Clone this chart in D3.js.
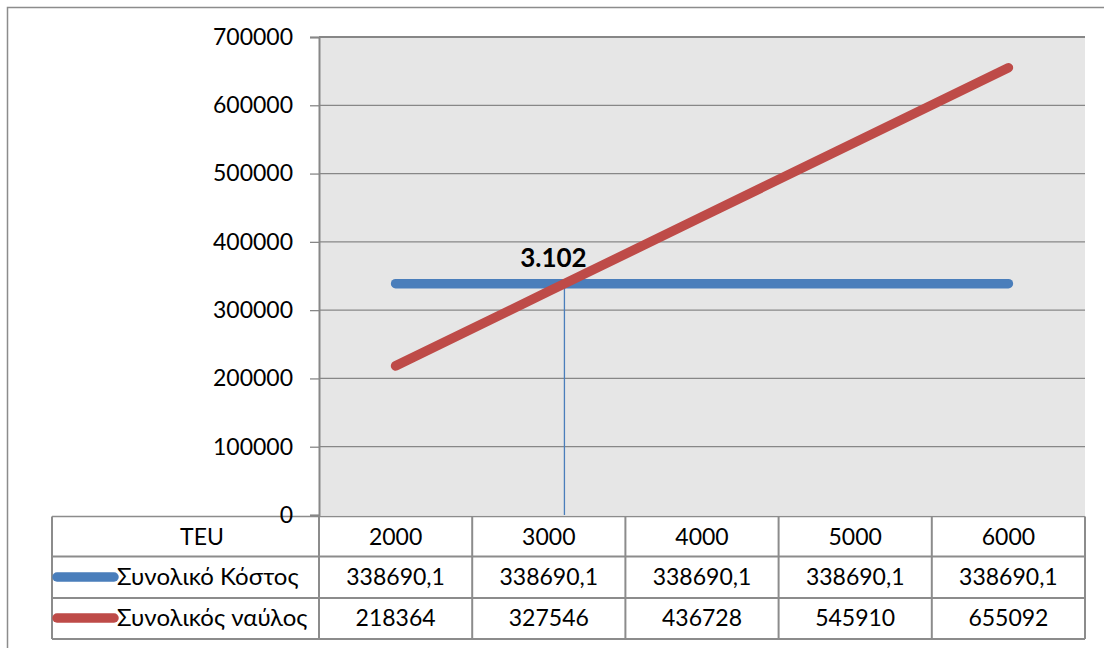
<!DOCTYPE html>
<html>
<head>
<meta charset="utf-8">
<script src="https://cdn.jsdelivr.net/npm/d3@7/dist/d3.min.js"></script>
<style>
  html, body { margin: 0; padding: 0; background: #ffffff; }
  svg { display: block; }
  text { font-family: Lato, "Open Sans", "Noto Sans", sans-serif; fill: #000; }
</style>
</head>
<body>
<svg id="chart" width="1104" height="648"></svg>
<script>
// TEU volumes (categories of the x axis / table header)
const teu = [2000, 3000, 4000, 5000, 6000];
// Series values
const totalCost = [338690.1, 338690.1, 338690.1, 338690.1, 338690.1];
const totalFreight = [218364, 327546, 436728, 545910, 655092];
// Series names
const seriesNames = ["Συνολικό Κόστος", "Συνολικός ναύλος"];
// Y axis ticks
const yTicks = [0, 100000, 200000, 300000, 400000, 500000, 600000, 700000];
// Break-even volume and its label
const breakEven = [3102];
const breakEvenLabel = ["3.102"];

const colors = { cost: "#4A7EBB", freight: "#BE4B48", grid: "#878787", border: "#8C8C8C" };

const svg = d3.select("#chart");
const plot = { left: 319, right: 1085, top: 37, bottom: 515 };
const table = { left: 52, top: 516.5, rowBottoms: [556.5, 598, 639] };

// Outer chart frame
svg.append("rect")
  .attr("x", 7.5).attr("y", 7.5).attr("width", 1110).attr("height", 660)
  .attr("fill", "#fff").attr("stroke", colors.border).attr("stroke-width", 1.5);

// Scales
const xBand = d3.scaleBand().domain(teu).range([plot.left, plot.right]);
const step = xBand.step();
const xLin = d3.scaleLinear()
  .domain([teu[0] - 500, teu[teu.length - 1] + 500])
  .range([plot.left, plot.right]);
const y = d3.scaleLinear().domain([0, 700000]).range([plot.bottom, plot.top]);

// Plot background
svg.append("rect")
  .attr("x", plot.left).attr("y", plot.top)
  .attr("width", plot.right - plot.left).attr("height", plot.bottom - plot.top)
  .attr("fill", "#E6E6E6");

// Horizontal gridlines
svg.append("g").selectAll("line").data(yTicks.filter(d => d > 0)).join("line")
  .attr("x1", plot.left).attr("x2", plot.right)
  .attr("y1", d => y(d)).attr("y2", d => y(d))
  .attr("stroke", colors.grid).attr("stroke-width", d => d === 700000 ? 2 : 1.3);

// Data table grid
const tg = svg.append("g");
const colEdges = [table.left, ...teu.map(d => xBand(d)), plot.right];
const rowEdges = [table.top, ...table.rowBottoms];
rowEdges.forEach((ry, i) => {
  tg.append("line")
    .attr("x1", table.left).attr("x2", plot.right)
    .attr("y1", ry).attr("y2", ry)
    .attr("stroke", colors.border).attr("stroke-width", i === 0 ? 1.5 : 2);
});
colEdges.forEach(cx => {
  tg.append("line")
    .attr("x1", cx).attr("x2", cx)
    .attr("y1", table.top).attr("y2", table.rowBottoms[2])
    .attr("stroke", colors.border).attr("stroke-width", 2);
});

// Y axis
const yAxis = d3.axisLeft(y).tickValues(yTicks).tickSize(9).tickPadding(17)
  .tickFormat(d3.format("d"));
const ya = svg.append("g").attr("transform", `translate(${plot.left},0)`).call(yAxis);
ya.select(".domain").attr("stroke", colors.grid).attr("stroke-width", 2);
ya.selectAll(".tick line").attr("stroke", colors.grid).attr("stroke-width", 1.3);
ya.selectAll(".tick text")
  .attr("font-size", 23).attr("fill", "#000")
  .style("font-family", "Lato, 'Open Sans', sans-serif");
// White backing behind the "0" label where it crosses the table border
ya.selectAll(".tick").filter(d => d === 0).insert("rect", "text")
  .attr("x", -47).attr("y", -8).attr("width", 29).attr("height", 6).attr("fill", "#fff");

// Break-even drop line
svg.append("line")
  .attr("x1", xLin(breakEven[0])).attr("x2", xLin(breakEven[0]))
  .attr("y1", y(totalCost[0])).attr("y2", plot.bottom)
  .attr("stroke", colors.cost).attr("stroke-width", 1.3);

// Series lines
const line = vals => d3.line()
  .x((d, i) => xBand(teu[i]) + step / 2)
  .y(d => y(d))(vals);

svg.append("path").attr("d", line(totalCost))
  .attr("fill", "none").attr("stroke", colors.cost)
  .attr("stroke-width", 9.5).attr("stroke-linecap", "round");
svg.append("path").attr("d", line(totalFreight))
  .attr("fill", "none").attr("stroke", colors.freight)
  .attr("stroke-width", 9.5).attr("stroke-linecap", "round");

// Break-even label
svg.append("text")
  .attr("x", xLin(breakEven[0]) - 11).attr("y", y(totalCost[0]) - 17)
  .attr("text-anchor", "middle").attr("font-size", 26).attr("font-weight", "bold")
  .text(breakEvenLabel[0]);

// Table contents
const rowMid = [536.5, 577, 618];
svg.append("text")
  .attr("x", 202).attr("y", rowMid[0]).attr("dy", "0.35em")
  .attr("text-anchor", "middle").attr("font-size", 23).text("TEU");

svg.append("g").selectAll("text").data(teu).join("text")
  .attr("x", d => xBand(d) + step / 2).attr("y", rowMid[0]).attr("dy", "0.35em")
  .attr("text-anchor", "middle").attr("font-size", 23).text(d => d);

const fmt = v => String(v).replace(".", ",");
[totalCost, totalFreight].forEach((vals, r) => {
  svg.append("g").selectAll("text").data(vals).join("text")
    .attr("x", (d, i) => xBand(teu[i]) + step / 2).attr("y", rowMid[r + 1]).attr("dy", "0.35em")
    .attr("text-anchor", "middle").attr("font-size", 23).text(fmt);
  // legend key
  svg.append("line")
    .attr("x1", 57).attr("x2", 114)
    .attr("y1", rowMid[r + 1]).attr("y2", rowMid[r + 1])
    .attr("stroke", r === 0 ? colors.cost : colors.freight)
    .attr("stroke-width", 9.5).attr("stroke-linecap", "round");
  svg.append("text")
    .attr("x", 117).attr("y", rowMid[r + 1]).attr("dy", "0.35em")
    .attr("font-size", 24).text(seriesNames[r]);
});
</script>
</body>
</html>
